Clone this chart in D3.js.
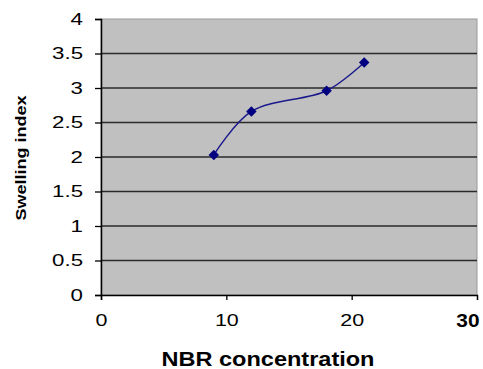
<!DOCTYPE html>
<html>
<head>
<meta charset="utf-8">
<script src="https://cdn.jsdelivr.net/npm/d3@7"></script>
<style>
  body { margin: 0; background: #fff; }
  text { font-family: "Liberation Sans", Arial, sans-serif; }
</style>
</head>
<body>
<div id="chart"></div>
<script>
// NBR concentration vs swelling index
var nbr = [9, 12, 18, 21];
var swelling = [2.03, 2.66, 2.96, 3.37];
var xTicks = [0, 10, 20];
var yTicks = [0, 0.5, 1, 1.5, 2, 2.5, 3, 3.5, 4];

var W = 483, H = 369;
var mLeft = 101, mRight = 477, mTop = 19, mBottom = 295;

var svg = d3.select("#chart").append("svg").attr("width", W).attr("height", H);

var x = d3.scaleLinear().domain([0, 30]).range([mLeft, mRight]);
var y = d3.scaleLinear().domain([0, 4]).range([mBottom, mTop]);

// wide-looking labels like the original
function stretch(sel, k) {
  sel.each(function() {
    var w = this.getComputedTextLength();
    d3.select(this).attr("textLength", w * k).attr("lengthAdjust", "spacingAndGlyphs");
  });
}

// plot area
svg.append("rect").attr("x", mLeft).attr("y", mTop)
    .attr("width", mRight - mLeft).attr("height", mBottom - mTop)
    .attr("fill", "#c0c0c0").attr("stroke", "#9a9a9a").attr("stroke-width", 1);

// gridlines
svg.append("g").selectAll("line").data(yTicks.filter(d => d > 0 && d < 4)).join("line")
    .attr("x1", mLeft).attr("x2", mRight)
    .attr("y1", d => y(d)).attr("y2", d => y(d))
    .attr("stroke", "#2a2a2a").attr("stroke-width", 1.4);

// y axis
var yAxis = svg.append("g").attr("transform", "translate(" + mLeft + ",0)")
    .call(d3.axisLeft(y).tickValues(yTicks).tickSize(6).tickPadding(12).tickFormat(d3.format("")));
yAxis.select(".domain").attr("stroke", "#000").attr("stroke-width", 1.5);
yAxis.selectAll(".tick line").attr("stroke", "#000").attr("stroke-width", 1.3);
yAxis.selectAll("text").attr("font-size", 16.5).attr("fill", "#000")
    .attr("font-family", "Liberation Sans, Arial, sans-serif").call(stretch, 1.35);

// x axis
var xAxis = svg.append("g").attr("transform", "translate(0," + mBottom + ")")
    .call(d3.axisBottom(x).tickValues(xTicks).tickSize(5).tickPadding(14).tickFormat(d3.format("d")));
xAxis.select(".domain").attr("stroke", "#000").attr("stroke-width", 1.5);
xAxis.selectAll(".tick line").attr("stroke", "#000").attr("stroke-width", 1.3);
xAxis.selectAll("text").attr("font-size", 16.5).attr("fill", "#000")
    .attr("font-family", "Liberation Sans, Arial, sans-serif").call(stretch, 1.3);

svg.append("text").attr("x", x(30) - 9).attr("y", 327)
    .attr("text-anchor", "middle").attr("font-size", 19).attr("font-weight", "bold")
    .text("30").call(stretch, 1.1);

// series
var pts = nbr.map((d, i) => [x(d), y(swelling[i])]);
svg.append("path")
    .attr("d", d3.line().curve(d3.curveCatmullRom.alpha(0.5))(pts))
    .attr("fill", "none").attr("stroke", "#1a1a8c").attr("stroke-width", 1.5);

svg.append("g").selectAll("path").data(pts).join("path")
    .attr("transform", d => "translate(" + d[0] + "," + d[1] + ")")
    .attr("d", d3.symbol(d3.symbolDiamond2, 70))
    .attr("fill", "#000080");

// titles
svg.append("text").attr("x", 268).attr("y", 366)
    .attr("text-anchor", "middle").attr("font-size", 21).attr("font-weight", "bold")
    .attr("textLength", 213).attr("lengthAdjust", "spacingAndGlyphs")
    .text("NBR concentration");

svg.append("text").attr("transform", "translate(26,158) rotate(-90)")
    .attr("text-anchor", "middle").attr("font-size", 15).attr("font-weight", "bold")
    .attr("textLength", 125).attr("lengthAdjust", "spacingAndGlyphs")
    .text("Swelling index");
</script>
</body>
</html>
